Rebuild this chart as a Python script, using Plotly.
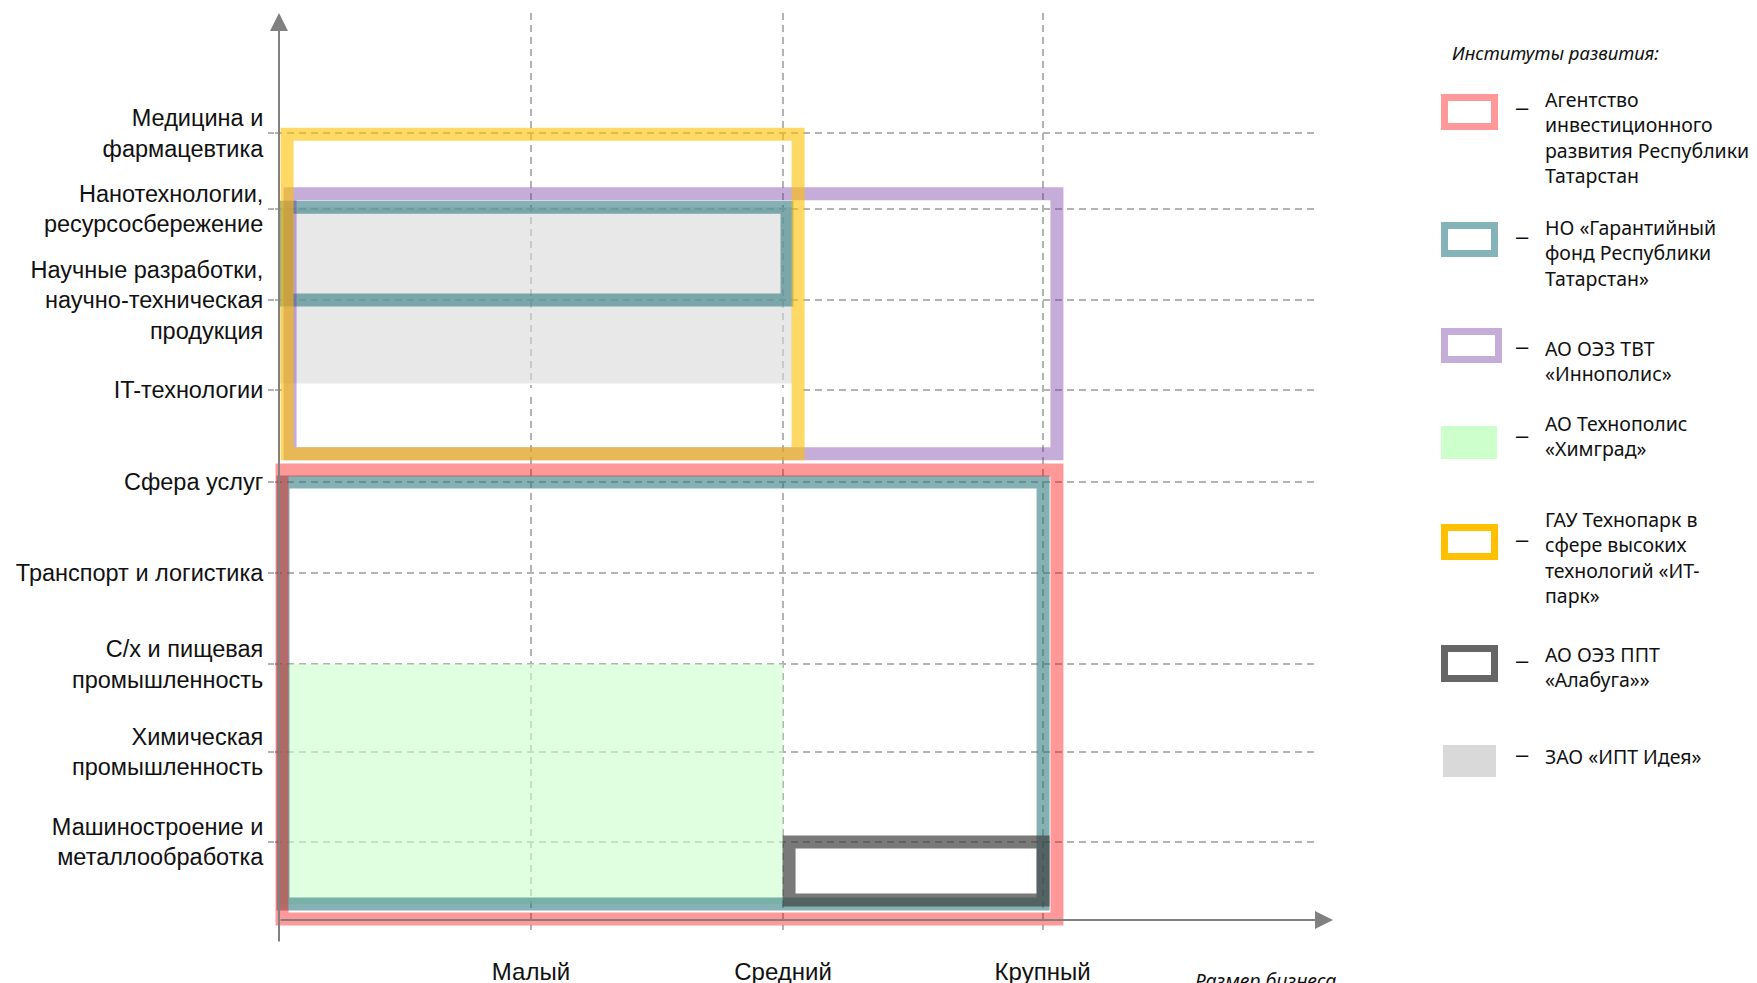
import plotly.graph_objects as go

W, H = 1757, 983
OFF = 8  # the page body margin shifts the figure by 8 px

# ---------------- data ----------------
sizes = ["Малый", "Средний", "Крупный"]
sectors = [
    "Машиностроение и<br>металлообработка",
    "Химическая<br>промышленность",
    "С/х и пищевая<br>промышленность",
    "Транспорт и логистика",
    "Сфера услуг",
    "IT-технологии",
    "Научные разработки,<br>научно-техническая<br>продукция",
    "Нанотехнологии,<br>ресурсосбережение",
    "Медицина и<br>фармацевтика",
]
# category positions along the two axes (axis units)
size_axis_pos = [1.0, 2.0, 3.03]
sector_axis_pos = [0.867, 1.867, 2.844, 3.856, 4.867, 5.889, 6.889, 7.9, 8.744]

institutions = [
    "Агентство<br>инвестиционного<br>развития Республики<br>Татарстан",
    "НО «Гарантийный<br>фонд Республики<br>Татарстан»",
    "АО ОЭЗ ТВТ<br>«Иннополис»",
    "АО Технополис<br>«Химград»",
    "ГАУ Технопарк в<br>сфере высоких<br>технологий «ИТ-<br>парк»",
    "АО ОЭЗ ППТ<br>«Алабуга»»",
    "ЗАО «ИПТ Идея»",
]
inst_kind = ["outline", "outline", "outline", "fill", "outline", "outline", "fill"]

# coverage boxes (axis units): which institution, size range, sector range
box_inst = [0, 1, 1, 2, 3, 4, 5, 6]
box_x0 = [0.012, 0.03, 0.016, 0.044, 0.0, 0.032, 2.024, 0.0]
box_x1 = [3.087, 2.016, 3.032, 3.087, 2.0, 2.06, 3.032, 2.036]
box_y0 = [0.011, 6.889, 0.178, 5.18, 0.178, 5.18, 0.222, 5.96]
box_y1 = [5.0, 7.92, 4.867, 8.07, 2.844, 8.73, 0.867, 7.92]

# ---------------- styles ----------------
inst_color = ["rgba(255,0,0,0.4)", "rgba(40,118,125,0.57)", "rgba(112,48,160,0.4)",
              "rgba(204,255,204,0.6)", "rgba(255,192,0,0.6)", "rgba(64,64,64,0.7)",
              "rgba(217,217,217,0.6)"]
legend_color = ["rgba(255,0,0,0.4)", "#84b4b8", "rgba(112,48,160,0.4)", "#ccffcc",
                "#ffc000", "#666666", "#d9d9d9"]
draw_order = [3, 6, 1, 2, 4, 5, 0]
STROKE = 13
LABEL_FONT = "Liberation Sans, Arial, sans-serif"
LEG_FONT = "Noto Sans, sans-serif"
GRID = "#b3b3b3"

# pixel layout of the plotting frame (screen pixels)
X0_PX, UNIT_X = 279, 252.0
Y0_PX, UNIT_Y = 920, 90.0
DOM_L, DOM_R, DOM_T, DOM_B = 275, 1318, 13, 930


def fx(p):
    return (p - OFF) / W


def fy(p):
    return 1 - (p - OFF) / H


fig = go.Figure()

# the IT-park frame is opaque white inside on the IT row in the original drawing:
# mask that grid line inside the yellow frame
it_box = box_inst.index(4)
it_row = sector_axis_pos[sectors.index("IT-технологии")]
fig.add_trace(go.Scatter(x=[box_x0[it_box], box_x1[it_box]], y=[it_row, it_row],
                         mode="lines", line=dict(color="white", width=4),
                         hoverinfo="skip", showlegend=False))

for i in draw_order:
    xs, ys = [], []
    for b, inst in enumerate(box_inst):
        if inst != i:
            continue
        x0, x1, y0, y1 = box_x0[b], box_x1[b], box_y0[b], box_y1[b]
        if inst_kind[i] == "outline":
            xs += [x0, x1, x1, x0, x0, x1, None]
            ys += [y0, y0, y1, y1, y0, y0, None]
        else:
            xs += [x0, x1, x1, x0, x0, None]
            ys += [y0, y0, y1, y1, y0, None]
    if inst_kind[i] == "outline":
        fig.add_trace(go.Scatter(x=xs, y=ys, mode="lines",
                                 line=dict(color=inst_color[i], width=STROKE),
                                 hoverinfo="skip", showlegend=False))
    else:
        fig.add_trace(go.Scatter(x=xs, y=ys, mode="lines", fill="toself",
                                 fillcolor=inst_color[i],
                                 line=dict(color="rgba(0,0,0,0)", width=0),
                                 hoverinfo="skip", showlegend=False))

grid_common = dict(showgrid=True, gridcolor=GRID, gridwidth=1.5, griddash="7px,5px",
                   zeroline=False, showline=False, fixedrange=True)

fig.update_layout(
    template="none",
    width=W, height=H,
    margin=dict(l=0, r=0, t=0, b=0),
    paper_bgcolor="white", plot_bgcolor="white",
    showlegend=False,
    xaxis=dict(domain=[fx(DOM_L), fx(DOM_R)],
               range=[(DOM_L - X0_PX) / UNIT_X, (DOM_R - X0_PX) / UNIT_X],
               tickvals=size_axis_pos, ticktext=sizes, ticks="",
               tickfont=dict(family=LABEL_FONT, size=24, color="#111"),
               ticklabelstandoff=25, automargin=False, **grid_common),
    yaxis=dict(domain=[fy(DOM_B), fy(DOM_T)],
               range=[(Y0_PX - DOM_B) / UNIT_Y, (Y0_PX - DOM_T) / UNIT_Y],
               tickvals=sector_axis_pos, ticktext=sectors,
               ticks="outside", ticklen=6, tickwidth=1.5, tickcolor=GRID,
               tickfont=dict(family=LABEL_FONT, size=23.5, color="#111"),
               automargin=False, **grid_common),
)

annotations = []
# axis arrows
annotations.append(dict(xref="paper", yref="paper", x=fx(X0_PX), y=fy(13), ax=0, ay=930,
                        axref="pixel", ayref="pixel", text="", showarrow=True,
                        arrowhead=2, arrowsize=1.8, arrowwidth=2, arrowcolor="#808080",
                        standoff=0))
annotations.append(dict(xref="paper", yref="paper", x=fx(1333), y=fy(Y0_PX), ax=-1054, ay=0,
                        axref="pixel", ayref="pixel", text="", showarrow=True,
                        arrowhead=2, arrowsize=1.8, arrowwidth=2, arrowcolor="#808080",
                        standoff=0))
# axis title
annotations.append(dict(xref="paper", yref="paper", x=fx(1193), y=fy(980),
                        xanchor="left", yanchor="middle", showarrow=False,
                        text="<i>Размер бизнеса</i>",
                        font=dict(family=LEG_FONT, size=19.5, color="#111")))
# legend title
annotations.append(dict(xref="paper", yref="paper", x=fx(1450), y=fy(53),
                        xanchor="left", yanchor="middle", showarrow=False,
                        text="<i>Институты развития:</i>",
                        font=dict(family=LEG_FONT, size=18.5, color="#111")))

# custom legend layout (screen pixels)
leg_icon_box = [(1441, 1498, 94, 130), (1441, 1498, 222, 257), (1441, 1502, 328, 363),
                (1441, 1497, 426, 459), (1441, 1498, 524, 560), (1441, 1498, 645, 682),
                (1443, 1496, 745, 777)]
leg_text_y = [98, 226, 347, 422, 518, 653, 755]
leg_dash_y = [108, 236, 346, 436, 539, 660, 754]
LEG_W = 7

shapes = []
for i, name in enumerate(institutions):
    l, r, t, b = leg_icon_box[i]
    if inst_kind[i] == "outline":
        h = LEG_W / 2
        shapes.append(dict(type="rect", xref="paper", yref="paper",
                           x0=fx(l + h), x1=fx(r - h), y0=fy(b - h), y1=fy(t + h),
                           line=dict(color=legend_color[i], width=LEG_W),
                           fillcolor="rgba(0,0,0,0)"))
    else:
        shapes.append(dict(type="rect", xref="paper", yref="paper",
                           x0=fx(l), x1=fx(r), y0=fy(b), y1=fy(t),
                           line=dict(width=0), fillcolor=legend_color[i]))
    annotations.append(dict(xref="paper", yref="paper", x=fx(1522.5), y=fy(leg_dash_y[i]),
                            xanchor="center", yanchor="middle", showarrow=False, text="–",
                            font=dict(family=LABEL_FONT, size=22, color="#111")))
    annotations.append(dict(xref="paper", yref="paper", x=fx(1543), y=fy(leg_text_y[i] - 14),
                            xanchor="left", yanchor="top", align="left", showarrow=False,
                            text=name,
                            font=dict(family=LEG_FONT, size=19.5, color="#111")))

fig.update_layout(annotations=annotations, shapes=shapes)
fig.write_html("out.html")
